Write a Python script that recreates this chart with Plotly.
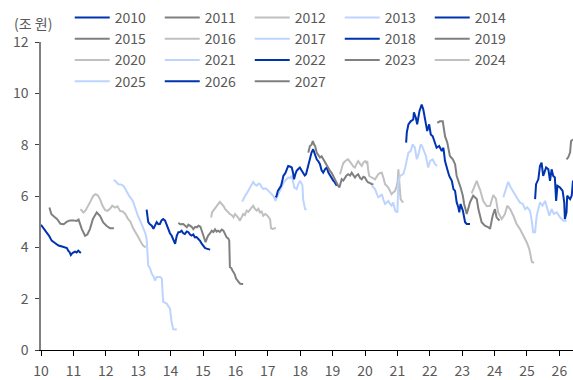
import plotly.graph_objects as go

# ---- data (x = year - 2000, y = 조 원) ----
s2010_x = [10.0,10.08,10.17,10.25,10.33,10.42,10.54,10.65,10.74,10.8,10.84,10.88,10.92,10.97,11.05,11.1,11.15,11.23]
s2010_y = [4.88,4.72,4.58,4.45,4.26,4.18,4.07,4.03,4.0,3.97,3.87,3.82,3.7,3.78,3.83,3.8,3.87,3.78]

s2011_x = [10.26,10.32,10.42,10.5,10.6,10.7,10.8,10.9,11.0,11.1,11.16,11.26,11.36,11.43,11.51,11.6,11.72,11.82,11.92,12.02,12.13,12.25]
s2011_y = [5.55,5.29,5.18,5.1,4.92,4.9,5.0,5.05,5.05,5.03,5.08,4.71,4.45,4.5,4.71,5.1,5.36,5.23,4.97,4.84,4.74,4.74]

s2012_x = [11.22,11.31,11.38,11.46,11.53,11.61,11.68,11.75,11.82,11.9,11.98,12.05,12.13,12.2,12.28,12.36,12.44,12.52,12.6,12.68,12.76,12.84,12.92,13.0,13.08,13.15,13.23]
s2012_y = [5.49,5.36,5.45,5.62,5.8,6.0,6.07,6.03,5.88,5.62,5.45,5.42,5.5,5.62,5.55,5.6,5.42,5.4,5.3,5.12,5.0,4.75,4.55,4.4,4.22,4.07,4.0]

s2013_x = [12.25,12.32,12.39,12.46,12.54,12.6,12.65,12.7,12.75,12.8,12.85,12.9,12.95,13.0,13.06,13.11,13.16,13.22,13.26,13.28,13.31,13.36,13.42,13.48,13.52,13.57,13.62,13.68,13.73,13.77,13.82,13.88,13.93,13.98,14.03,14.08,14.13,14.19]
s2013_y = [6.63,6.55,6.46,6.45,6.4,6.28,6.14,6.05,5.95,5.88,5.75,5.55,5.36,5.2,5.04,4.9,4.72,4.55,4.33,3.68,3.29,3.2,2.97,2.85,2.71,2.84,2.84,2.84,2.78,1.88,1.85,1.81,1.7,1.62,1.1,0.81,0.8,0.81]

s2014_x = [13.26,13.28,13.31,13.36,13.42,13.47,13.52,13.57,13.62,13.67,13.72,13.77,13.83,13.88,13.93,13.98,14.03,14.08,14.14,14.19,14.24,14.29,14.34,14.39,14.44,14.5,14.55,14.6,14.65,14.7,14.75,14.8,14.86,14.91,14.96,15.01,15.06,15.11,15.16,15.22]
s2014_y = [5.47,5.2,4.98,4.9,4.84,4.72,4.85,4.98,4.9,4.91,5.05,5.1,5.04,4.85,4.65,4.55,4.46,4.3,4.14,4.45,4.59,4.6,4.65,4.55,4.52,4.62,4.59,4.5,4.46,4.5,4.39,4.4,4.33,4.25,4.14,4.05,3.98,3.95,3.94,3.91]

s2015_x = [14.24,14.3,14.39,14.45,14.5,14.55,14.6,14.65,14.7,14.76,14.81,14.86,14.92,14.98,15.04,15.08,15.12,15.16,15.22,15.27,15.32,15.37,15.42,15.47,15.52,15.58,15.63,15.68,15.73,15.78,15.81,15.83,15.87,15.91,15.94,15.98,16.02,16.06,16.1,16.14,16.19,16.24]
s2015_y = [4.95,4.9,4.91,4.85,4.78,4.88,4.84,4.8,4.71,4.8,4.78,4.84,4.8,4.58,4.35,4.2,4.35,4.46,4.55,4.65,4.6,4.7,4.61,4.65,4.6,4.69,4.65,4.5,4.39,4.35,4.26,3.23,3.2,3.1,3.04,2.95,2.78,2.7,2.62,2.59,2.57,2.57]

s2016_x = [15.25,15.28,15.33,15.39,15.45,15.52,15.57,15.63,15.68,15.73,15.78,15.83,15.89,15.94,15.99,16.04,16.09,16.14,16.19,16.24,16.29,16.35,16.4,16.45,16.5,16.55,16.6,16.66,16.71,16.76,16.81,16.86,16.92,16.97,17.02,17.07,17.1,17.15,17.2,17.25]
s2016_y = [5.16,5.36,5.45,5.55,5.65,5.77,5.7,5.62,5.5,5.43,5.35,5.3,5.25,5.17,5.3,5.23,5.15,5.04,5.2,5.3,5.25,5.43,5.38,5.49,5.55,5.62,5.5,5.43,5.5,5.36,5.4,5.23,5.3,5.26,5.2,5.1,4.74,4.72,4.74,4.74]

s2017_x = [16.21,16.25,16.3,16.35,16.4,16.45,16.5,16.55,16.6,16.66,16.71,16.76,16.81,16.86,16.92,16.97,17.02,17.07,17.12,17.17,17.21,17.24,17.28,17.32,17.38,17.43,17.48,17.53,17.58,17.63,17.68,17.74,17.78,17.82,17.86,17.89,17.94,17.99,18.04,18.07,18.09,18.12,18.15,18.2]
s2017_y = [5.78,5.9,6.01,6.1,6.2,6.35,6.45,6.55,6.45,6.4,6.48,6.46,6.35,6.27,6.3,6.27,6.2,6.14,6.1,6.01,5.9,5.81,5.95,6.07,6.25,6.4,6.5,6.59,6.65,6.72,6.7,6.78,6.55,6.33,6.3,6.27,6.45,6.59,6.5,6.4,5.88,5.6,5.49,5.47]

s2018_x = [17.24,17.27,17.31,17.36,17.41,17.45,17.48,17.52,17.55,17.59,17.63,17.68,17.74,17.78,17.81,17.85,17.89,17.94,17.99,18.04,18.1,18.14,18.18,18.22,18.25,18.3,18.35,18.4,18.45,18.51,18.56,18.61,18.66,18.71,18.77,18.82,18.87,18.92,18.97,19.02,19.07,19.13]
s2018_y = [5.95,6.0,6.2,6.3,6.4,6.6,6.78,6.85,6.91,7.05,7.17,7.15,7.11,6.9,6.65,6.85,6.98,7.05,7.11,7.0,6.85,6.8,6.85,7.05,7.3,7.5,7.69,7.82,7.6,7.43,7.35,7.24,7.0,6.91,7.05,7.11,6.91,6.8,6.72,6.6,6.53,6.4]

s2019_x = [18.25,18.28,18.3,18.35,18.39,18.43,18.46,18.51,18.56,18.61,18.66,18.71,18.77,18.82,18.87,18.92,18.97,19.02,19.07,19.13,19.17,19.21,19.25,19.28,19.33,19.38,19.43,19.48,19.54,19.59,19.64,19.69,19.74,19.79,19.85,19.9,19.95,20.0,20.05,20.1,20.16,20.21,20.26]
s2019_y = [7.69,7.85,7.95,8.0,8.14,8.0,7.95,7.69,7.6,7.5,7.55,7.43,7.3,7.17,7.05,6.98,6.9,6.78,6.6,6.46,6.4,6.33,6.5,6.65,6.6,6.72,6.8,6.85,6.8,6.91,6.8,6.72,6.8,6.85,6.7,6.65,6.75,6.72,6.6,6.53,6.5,6.46,6.46]

s2020_x = [19.23,19.26,19.3,19.34,19.38,19.43,19.48,19.54,19.59,19.64,19.69,19.74,19.79,19.85,19.9,19.95,20.0,20.04,20.07,20.1,20.13,20.17,20.21,20.26,20.31,20.36,20.41,20.47,20.52,20.57,20.62,20.67,20.72,20.77,20.82,20.87,20.93,20.98,21.01,21.03,21.06,21.1,21.14,21.18]
s2020_y = [6.85,7.05,7.17,7.3,7.36,7.4,7.43,7.3,7.24,7.15,7.11,7.25,7.36,7.25,7.17,7.3,7.36,7.3,7.36,7.0,6.78,6.75,6.72,6.7,6.65,6.75,6.85,6.9,6.91,6.7,6.46,6.4,6.33,6.2,6.07,6.14,6.2,6.4,6.6,7.04,6.4,5.88,5.8,5.75]

s2021_x = [20.21,20.26,20.31,20.36,20.41,20.47,20.52,20.57,20.62,20.67,20.72,20.77,20.82,20.87,20.93,21.0,21.03,21.08,21.13,21.18,21.24,21.29,21.34,21.41,21.47,21.54,21.6,21.65,21.72,21.76,21.8,21.84,21.88,21.95,22.01,22.05,22.09,22.16,22.23]
s2021_y = [6.4,6.35,6.27,6.1,5.95,6.0,6.07,5.85,5.69,5.75,5.81,5.7,5.62,5.75,5.43,5.36,6.53,6.78,6.8,6.85,7.1,7.43,7.69,7.75,8.01,7.88,7.43,7.62,8.01,7.95,7.82,7.7,7.56,7.11,7.36,7.4,7.43,7.24,7.17]

s2022_x = [21.27,21.29,21.34,21.41,21.49,21.51,21.57,21.61,21.68,21.75,21.8,21.85,21.92,21.98,22.03,22.09,22.16,22.21,22.29,22.37,22.42,22.47,22.54,22.6,22.68,22.73,22.78,22.83,22.88,22.91,22.95,23.02,23.09,23.14,23.24]
s2022_y = [8.08,8.47,8.79,8.91,8.98,9.26,9.05,8.79,9.3,9.56,9.37,9.05,8.53,8.79,8.4,8.33,8.08,7.88,7.95,7.75,7.88,7.36,7.04,6.78,6.59,6.27,6.2,5.75,5.56,5.36,5.69,5.43,4.98,4.91,4.91]

s2023_x = [22.23,22.31,22.4,22.42,22.47,22.54,22.62,22.71,22.78,22.83,22.91,22.95,23.02,23.06,23.14,23.24,23.34,23.45,23.5,23.6,23.7,23.81,23.86,23.94,24.01,24.06,24.15]
s2023_y = [8.85,8.91,8.91,8.72,8.33,8.08,7.56,7.43,7.24,6.78,6.53,6.33,6.01,5.69,5.3,5.75,6.01,5.88,5.49,4.98,4.84,4.78,4.72,5.23,5.49,5.17,5.04]

s2024_x = [23.29,23.34,23.45,23.5,23.55,23.65,23.76,23.86,23.96,24.04,24.11,24.22,24.32,24.39,24.48,24.58,24.68,24.78,24.89,24.99,25.07,25.15,25.22]
s2024_y = [6.1,6.27,6.59,6.4,6.25,5.8,5.6,5.62,6.04,5.9,5.36,5.1,5.3,5.62,5.49,5.23,4.91,4.72,4.46,4.2,3.94,3.43,3.4]

s2025_x = [24.27,24.35,24.42,24.5,24.58,24.68,24.78,24.87,24.94,25.01,25.09,25.14,25.19,25.25,25.3,25.35,25.4,25.48,25.56,25.63,25.69,25.76,25.83,25.92,26.02,26.12,26.22]
s2025_y = [5.95,6.27,6.55,6.33,6.14,5.95,5.75,5.69,5.49,5.56,5.43,5.1,4.59,4.59,5.23,5.49,5.75,5.62,5.81,5.49,5.23,5.49,5.3,5.36,5.17,5.04,5.04]

s2026_x = [25.25,25.28,25.35,25.4,25.45,25.5,25.59,25.66,25.71,25.76,25.81,25.86,25.9,25.94,26.02,26.1,26.15,26.17,26.22,26.24,26.33,26.38,26.42]
s2026_y = [5.88,6.46,6.65,7.17,7.3,6.78,7.11,7.04,6.59,7.04,6.78,6.72,5.81,6.4,6.33,6.2,5.75,5.1,5.36,6.01,5.88,6.01,6.6]

s2027_x = [26.22,26.27,26.33,26.36,26.42]
s2027_y = [7.43,7.5,7.69,8.14,8.2]

years = list(range(2010, 2028))
series_x = [s2010_x, s2011_x, s2012_x, s2013_x, s2014_x, s2015_x, s2016_x, s2017_x, s2018_x,
            s2019_x, s2020_x, s2021_x, s2022_x, s2023_x, s2024_x, s2025_x, s2026_x, s2027_x]
series_y = [s2010_y, s2011_y, s2012_y, s2013_y, s2014_y, s2015_y, s2016_y, s2017_y, s2018_y,
            s2019_y, s2020_y, s2021_y, s2022_y, s2023_y, s2024_y, s2025_y, s2026_y, s2027_y]

x_ticks = list(range(10, 27))
y_ticks = [0, 2, 4, 6, 8, 10, 12]

# ---- style ----
palette = ['#0033B0', '#808080', '#C0C0C0', '#BDD4FF']
FONT = 'Noto Sans CJK KR'
TXT = '#595959'

fig = go.Figure()
for i, yr in enumerate(years):
    fig.add_trace(go.Scatter(
        x=series_x[i], y=series_y[i], mode='lines', name=str(yr),
        line=dict(color=palette[i % 4], width=2), hoverinfo='skip'))

fig.update_layout(
    width=573, height=380,
    margin=dict(l=41, r=0, t=42, b=28),
    paper_bgcolor='white', plot_bgcolor='white',
    font=dict(family=FONT, size=14, color=TXT),
    showlegend=True,
    legend=dict(orientation='h', x=0.054, xanchor='left', y=1.13, yanchor='top',
                entrywidth=40, entrywidthmode='pixels', itemwidth=35,
                font=dict(family=FONT, size=14, color=TXT),
                bgcolor='rgba(0,0,0,0)', tracegroupgap=0, traceorder='normal'),
    xaxis=dict(range=[10, 26.42], tickvals=x_ticks, ticktext=[str(t) for t in x_ticks],
               showgrid=False, zeroline=False, showline=True, linecolor='#000000', linewidth=1,
               ticks='outside', ticklen=5, tickcolor='#000000', ticklabelstandoff=3,
               tickfont=dict(family=FONT, size=14, color=TXT)),
    yaxis=dict(range=[0, 12], tickvals=y_ticks, showgrid=False, zeroline=False,
               showline=True, linecolor='#808080', linewidth=1.5,
               ticks='outside', ticklen=4, tickcolor='#404040', ticklabelstandoff=4,
               tickfont=dict(family=FONT, size=14, color=TXT)),
    annotations=[dict(text='(조 원)', xref='paper', yref='paper', x=-0.015, y=1.0 + 19/310,
                      xanchor='center', yanchor='middle', showarrow=False,
                      font=dict(family=FONT, size=14, color=TXT))],
)

fig.write_html('out.html', config={'displayModeBar': False},
               post_script="document.body.style.margin='0px';")
